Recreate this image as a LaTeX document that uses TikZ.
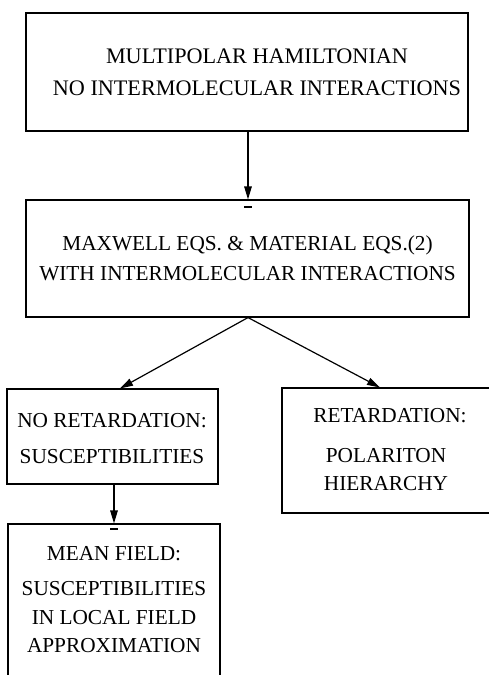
\documentclass[tikz,border=0pt]{standalone}
\usepackage{fontspec}
\setmainfont{Liberation Serif}
\usetikzlibrary{arrows.meta}
\begin{document}
\begin{tikzpicture}[x=1pt,y=-1pt,
  box/.style={draw, line width=1.1pt, inner sep=0pt},
  lbl/.style={anchor=base, inner sep=0pt, font=\fontsize{21.3}{25}\selectfont},
  lblbig/.style={lbl, font=\fontsize{22.2}{26}\selectfont},
  conn/.style={line width=1.2pt, -{Triangle[length=13pt,width=7.5pt]}},
  tick/.style={line width=2pt}]
\useasboundingbox (0,0) rectangle (489,675);
\clip (0,0) rectangle (489,675);
% boxes
\node[box, minimum width=442pt, minimum height=118pt] (b1) at (247,72) {};
\node[box, minimum width=443pt, minimum height=117pt] (b2) at (247.5,258.5) {};
\node[box, minimum width=211pt, minimum height=95pt] (b3) at (112.5,436.5) {};
\node[box, minimum width=212pt, minimum height=125pt] (b4) at (388,450.5) {};
\node[box, minimum width=212pt, minimum height=176pt] (b5) at (114,612) {};
% texts
\node[lblbig] (t1a) at (257,63) {MULTIPOLAR HAMILTONIAN};
\node[lblbig] (t1b) at (257,95) {NO INTERMOLECULAR INTERACTIONS};
\node[lbl] (t2a) at (247.5,250) {MAXWELL EQS. \& MATERIAL EQS.(2)};
\node[lbl] (t2b) at (247.5,280) {WITH INTERMOLECULAR INTERACTIONS};
\node[lbl] (t3a) at (112,427) {NO RETARDATION:};
\node[lbl] (t3b) at (112,463) {SUSCEPTIBILITIES};
\node[lbl] (t4a) at (390,422) {RETARDATION:};
\node[lbl] (t4b) at (386,462) {POLARITON};
\node[lbl] (t4c) at (386,490) {HIERARCHY};
\node[lbl] (t5a) at (114,560) {MEAN FIELD:};
\node[lbl] (t5b) at (114,595) {SUSCEPTIBILITIES};
\node[lbl] (t5c) at (114,624) {IN LOCAL FIELD};
\node[lbl] (t5d) at (114,652) {APPROXIMATION};
% connectors
\draw[conn] ([xshift=1pt]b1.south) -- ([xshift=0.5pt]b2.north);
\draw[conn] ([xshift=0.5pt]b2.south) -- ([xshift=7.5pt]b3.north);
\draw[conn] ([xshift=0.5pt]b2.south) -- ([xshift=-8pt]b4.north);
\draw[conn] ([xshift=1.5pt]b3.south) -- (b5.north);
% small marks below arrow tips
\draw[tick] ([xshift=-3.5pt,yshift=-8pt]b2.north) -- ([xshift=4.5pt,yshift=-8pt]b2.north);
\draw[tick] ([xshift=-4pt,yshift=-6pt]b5.north) -- ([xshift=4pt,yshift=-6pt]b5.north);
\end{tikzpicture}
\end{document}
